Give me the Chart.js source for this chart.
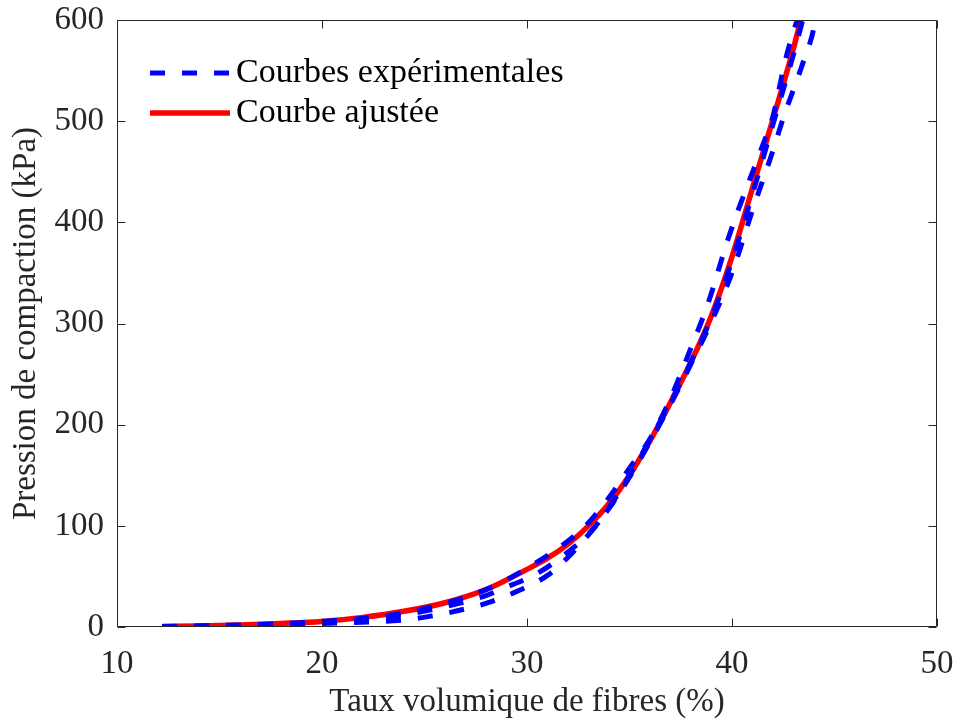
<!DOCTYPE html>
<html>
<head>
<meta charset="utf-8">
<script src="https://cdn.jsdelivr.net/npm/chart.js@4/dist/chart.umd.min.js"></script>
<style>
html,body{margin:0;padding:0;background:#fff;}
#wrap{width:957px;height:720px;}
</style>
</head>
<body>
<div id="wrap"><canvas id="c" width="957" height="720"></canvas></div>
<script>
// ---- data ----
const xTicks = [10, 20, 30, 40, 50];
const yTicks = [0, 100, 200, 300, 400, 500, 600];

const fitX = [12.2, 14, 16, 18, 20, 22, 24, 26, 28, 30, 31, 32, 33, 34, 35, 36, 37, 38, 39, 40, 41, 42, 43, 43.35];
const fitY = [0.5, 1, 2, 3.5, 5.5, 9.5, 15.5, 24, 37, 57, 68, 82, 100, 122, 150, 184, 222, 262, 308, 366, 434, 502, 572, 600];

const expAX = [12.2, 16, 20, 24, 28, 30, 32, 33, 34, 35, 36, 37, 38, 38.8, 39.8, 40.3, 41.4, 42, 42.6, 43.1, 43.2];
const expAY = [0.5, 2, 5.5, 14, 37, 58, 85, 103, 128, 157, 186, 226, 276, 318, 383, 412, 471, 505, 560, 595, 600];

const expBX = [12.2, 16, 20, 24, 26, 28, 28.7, 30.5, 31.8, 33.1, 34, 35, 36, 37, 38, 39, 40, 41, 42, 43, 43.45];
const expBY = [0.3, 1.5, 4.5, 12, 20, 31, 37, 53, 71, 94, 118, 150, 185, 222, 262, 306, 362, 428, 497, 566, 600];

const expCX = [12.2, 16, 20, 24, 25.1, 26.6, 28.1, 29.6, 31, 32.1, 33.2, 34.1, 35, 36, 37, 38, 39, 40, 41, 42, 42.5, 43.5, 44, 44.05];
const expCY = [0.3, 1, 3.5, 7, 10, 16, 24, 36, 51, 71, 96, 120, 148, 183, 220, 260, 302, 350, 412, 471, 503, 560, 593, 600];

const legendLabels = ['Courbes expérimentales', 'Courbe ajustée'];
const xTitle = 'Taux volumique de fibres (%)';
const yTitle = 'Pression de compaction (kPa)';

// ---- build ----
const pts = (xs, ys) => xs.map((x, i) => ({x: x, y: ys[i]}));
const FONT = '"Liberation Serif", "Times New Roman", serif';
const FS = 33;
const AXC = '#262626';
const BLUE = '#0000ff', RED = '#ff0000';
const DASH = [15, 17];

function expSet(xs, ys) {
  return {data: pts(xs, ys), borderColor: BLUE, borderWidth: 5, borderDash: DASH,
    borderCapStyle: 'butt', pointRadius: 0, fill: false, cubicInterpolationMode: 'monotone'};
}

const boxPlugin = {
  id: 'box',
  afterDraw(chart) {
    const ctx = chart.ctx, a = chart.chartArea;
    const xs = chart.scales.x, ys = chart.scales.y;
    ctx.save();
    ctx.strokeStyle = AXC; ctx.lineWidth = 1;
    const L = Math.round(a.left) + 0.5, R = Math.round(a.right) - 0.5;
    const T = Math.round(a.top) + 0.5, B = Math.round(a.bottom) - 0.5;
    ctx.beginPath();
    ctx.rect(L, T, R - L, B - T);
    const tl = 8;
    xs.ticks.forEach(t => {
      const px = Math.round(xs.getPixelForValue(t.value)) + 0.5;
      ctx.moveTo(px, B); ctx.lineTo(px, B - tl);
      ctx.moveTo(px, T); ctx.lineTo(px, T + tl);
    });
    ys.ticks.forEach(t => {
      const py = Math.round(ys.getPixelForValue(t.value)) + 0.5;
      ctx.moveTo(L, py); ctx.lineTo(L + tl, py);
      ctx.moveTo(R, py); ctx.lineTo(R - tl, py);
    });
    ctx.stroke();

    // legend (inside, top-left, no box)
    const lx0 = a.left + 33, lx1 = a.left + 113, tx = a.left + 119;
    const ly = [a.top + 53, a.top + 93];
    ctx.lineCap = 'butt';
    ctx.lineWidth = 5; ctx.strokeStyle = BLUE; ctx.setLineDash(DASH);
    ctx.beginPath(); ctx.moveTo(lx0, ly[0]); ctx.lineTo(lx1, ly[0]); ctx.stroke();
    ctx.setLineDash([]);
    ctx.lineWidth = 5.5; ctx.strokeStyle = RED;
    ctx.beginPath(); ctx.moveTo(lx0, ly[1]); ctx.lineTo(lx1, ly[1]); ctx.stroke();
    ctx.fillStyle = '#000';
    ctx.font = '34px ' + FONT;
    ctx.textBaseline = 'middle'; ctx.textAlign = 'left';
    ctx.fillText(legendLabels[0], tx, ly[0]);
    ctx.fillText(legendLabels[1], tx, ly[1]);
    ctx.restore();
  }
};

new Chart(document.getElementById('c'), {
  type: 'line',
  data: {
    datasets: [
      expSet(expAX, expAY),
      expSet(expBX, expBY),
      expSet(expCX, expCY),
      {data: pts(fitX, fitY), borderColor: RED, borderWidth: 5.5, pointRadius: 0, fill: false,
       cubicInterpolationMode: 'monotone'}
    ]
  },
  options: {
    responsive: false,
    animation: false,
    devicePixelRatio: 1,
    layout: {padding: {left: 0, right: 20, top: 20, bottom: 0}},
    plugins: {legend: {display: false}, tooltip: {enabled: false}},
    scales: {
      x: {
        type: 'linear', min: xTicks[0], max: xTicks[xTicks.length - 1],
        afterBuildTicks: s => { s.ticks = xTicks.map(v => ({value: v})); },
        afterFit: s => { s.height = 93; s.paddingLeft = 0; s.paddingRight = 0; },
        grid: {display: false, drawTicks: false},
        border: {display: false},
        ticks: {color: AXC, font: {family: FONT, size: FS}, padding: 18, maxRotation: 0, autoSkip: false},
        title: {display: true, text: xTitle, color: AXC, font: {family: FONT, size: FS, lineHeight: 1.1}, padding: {top: 0, bottom: 0}}
      },
      y: {
        type: 'linear', min: yTicks[0], max: yTicks[yTicks.length - 1],
        afterBuildTicks: s => { s.ticks = yTicks.map(v => ({value: v})); },
        afterFit: s => { s.width = 117; s.paddingTop = 0; s.paddingBottom = 0; },
        grid: {display: false, drawTicks: false},
        border: {display: false},
        ticks: {color: AXC, font: {family: FONT, size: FS}, padding: 13, autoSkip: false},
        title: {display: true, text: yTitle, color: AXC, font: {family: FONT, size: FS, lineHeight: 1.2}, padding: {top: 7, bottom: 0}}
      }
    }
  },
  plugins: [boxPlugin]
});
</script>
</body>
</html>
